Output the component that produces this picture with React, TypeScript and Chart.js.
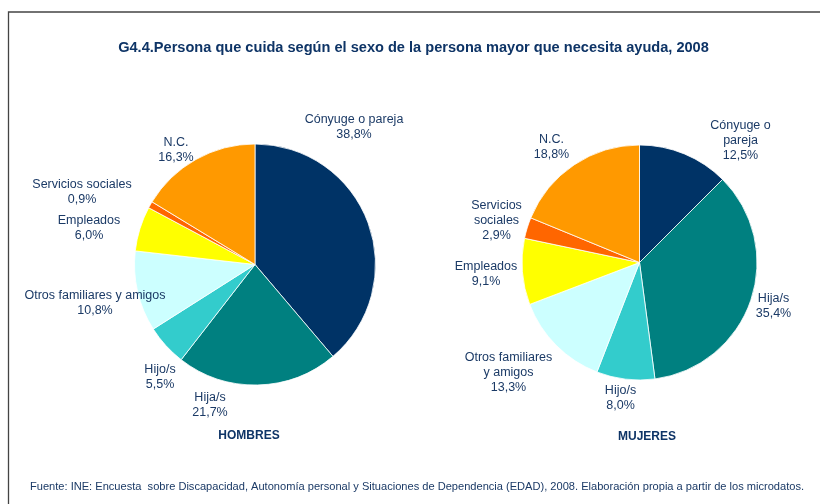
import React, { useEffect, useRef } from "react";
import { Chart, registerables } from "chart.js";

Chart.register(...registerables);

// ---- data ----
const categories = [
  "Cónyuge o pareja",
  "Hija/s",
  "Hijo/s",
  "Otros familiares y amigos",
  "Empleados",
  "Servicios sociales",
  "N.C.",
];
const hombresValues = [38.8, 21.7, 5.5, 10.8, 6.0, 0.9, 16.3];
const mujeresValues = [12.5, 35.4, 8.0, 13.3, 9.1, 2.9, 18.8];
const hombresLabelLines = [
  ["Cónyuge o pareja"],
  ["Hija/s"],
  ["Hijo/s"],
  ["Otros familiares y amigos"],
  ["Empleados"],
  ["Servicios sociales"],
  ["N.C."],
];
const mujeresLabelLines = [
  ["Cónyuge o", "pareja"],
  ["Hija/s"],
  ["Hijo/s"],
  ["Otros familiares", "y amigos"],
  ["Empleados"],
  ["Servicios", "sociales"],
  ["N.C."],
];
const groupNames = ["HOMBRES", "MUJERES"];
const titleText =
  "G4.4.Persona que cuida según el sexo de la persona mayor que necesita ayuda, 2008";
const sourceText =
  "Fuente: INE: Encuesta  sobre Discapacidad, Autonomía personal y Situaciones de Dependencia (EDAD), 2008. Elaboración propia a partir de los microdatos.";

// ---- styles ----
const sliceColors = ["#003366", "#008080", "#33CCCC", "#CCFFFF", "#FFFF00", "#FF6600", "#FF9900"];
const FONT = '"Liberation Sans", Arial, Helvetica, sans-serif';
const LABEL_COLOR = "#1B3A66";
const TITLE_COLOR = "#0E3466";
const W = 820;
const H = 504;

const fmtPct = (v: number) => v.toFixed(1).replace(".", ",") + "%";

function fitFont(ctx: CanvasRenderingContext2D, text: string, weight: string, target: number) {
  ctx.font = `${weight} 12px ${FONT}`;
  const w = ctx.measureText(text).width;
  return (12 * target) / w;
}

const pieLabelsPlugin = {
  id: "pieLabels",
  afterDraw(chart: any, _args: any, opts: any) {
    const ctx: CanvasRenderingContext2D = chart.ctx;
    const meta = chart.getDatasetMeta(0);
    const first = meta.data[0];
    if (!first) return;
    const cx = first.x;
    const cy = first.y;
    const values: number[] = chart.data.datasets[0].data;
    ctx.save();
    ctx.fillStyle = LABEL_COLOR;
    ctx.textAlign = "center";
    ctx.textBaseline = "middle";
    ctx.font = `12.5px ${FONT}`;
    const lh = 15;
    values.forEach((v, i) => {
      const lines = [...opts.lines[i], fmtPct(v)];
      const [dx, dy] = opts.offsets[i];
      const y0 = cy + dy - ((lines.length - 1) * lh) / 2;
      lines.forEach((t: string, k: number) => ctx.fillText(t, cx + dx, y0 + k * lh));
    });
    ctx.font = `bold 12px ${FONT}`;
    ctx.fillStyle = TITLE_COLOR;
    ctx.fillText(opts.group, cx + opts.groupOffset[0], cy + opts.groupOffset[1]);

    if (opts.frame) {
      // border
      ctx.strokeStyle = "#444444";
      ctx.lineWidth = 1.3;
      ctx.beginPath();
      ctx.moveTo(8.5, H);
      ctx.lineTo(8.5, 12);
      ctx.lineTo(W, 12);
      ctx.stroke();
      // title
      const ts = fitFont(ctx, titleText, "bold", 591);
      ctx.font = `bold ${ts}px ${FONT}`;
      ctx.fillStyle = TITLE_COLOR;
      ctx.textAlign = "center";
      ctx.fillText(titleText, 413.5, 48);
      // source
      const ss = fitFont(ctx, sourceText, "normal", 775);
      ctx.font = `normal ${ss}px ${FONT}`;
      ctx.fillStyle = LABEL_COLOR;
      ctx.textAlign = "left";
      ctx.fillText(sourceText, 30, 487);
    }
    ctx.restore();
  },
};

function makeConfig(
  values: number[],
  center: [number, number],
  radius: number,
  labelOpts: any
): any {
  const half = 150;
  return {
    type: "pie",
    data: {
      labels: categories,
      datasets: [
        {
          data: values,
          backgroundColor: sliceColors,
          borderColor: "#ffffff",
          borderWidth: 0.8,
          radius: radius,
        },
      ],
    },
    options: {
      responsive: false,
      animation: false,
      devicePixelRatio: 1,
      events: [],
      layout: {
        padding: {
          left: center[0] - half,
          right: W - center[0] - half,
          top: center[1] - half,
          bottom: H - center[1] - half,
        },
      },
      plugins: {
        legend: { display: false },
        tooltip: { enabled: false },
        title: { display: false },
        pieLabels: labelOpts,
      },
    },
    plugins: [pieLabelsPlugin],
  };
}

export default function App() {
  const leftRef = useRef<HTMLCanvasElement>(null);
  const rightRef = useRef<HTMLCanvasElement>(null);

  useEffect(() => {
    const left = new Chart(
      leftRef.current!,
      makeConfig(hombresValues, [255, 264.5], 120.5, {
        lines: hombresLabelLines,
        offsets: [
          [99, -137],
          [-45, 141],
          [-95, 113],
          [-160, 38.5],
          [-166, -36],
          [-173, -72.5],
          [-79, -114.5],
        ],
        group: groupNames[0],
        groupOffset: [-6, 171.5],
        frame: true,
      })
    );
    const right = new Chart(
      rightRef.current!,
      makeConfig(mujeresValues, [639.5, 262.5], 117.5, {
        lines: mujeresLabelLines,
        offsets: [
          [101, -122],
          [134, 43.5],
          [-19, 136],
          [-131, 110],
          [-153.5, 12],
          [-143, -42],
          [-88, -115.5],
        ],
        group: groupNames[1],
        groupOffset: [7.5, 174],
        frame: false,
      })
    );
    return () => {
      left.destroy();
      right.destroy();
    };
  }, []);

  const canvasStyle: React.CSSProperties = {
    position: "absolute",
    left: 0,
    top: 0,
    width: W,
    height: H,
  };

  return (
    <div
      style={{
        position: "fixed",
        left: 0,
        top: 0,
        width: W,
        height: H,
        background: "#ffffff",
        overflow: "hidden",
      }}
    >
      <canvas ref={leftRef} width={W} height={H} style={canvasStyle} />
      <canvas ref={rightRef} width={W} height={H} style={canvasStyle} />
    </div>
  );
}
